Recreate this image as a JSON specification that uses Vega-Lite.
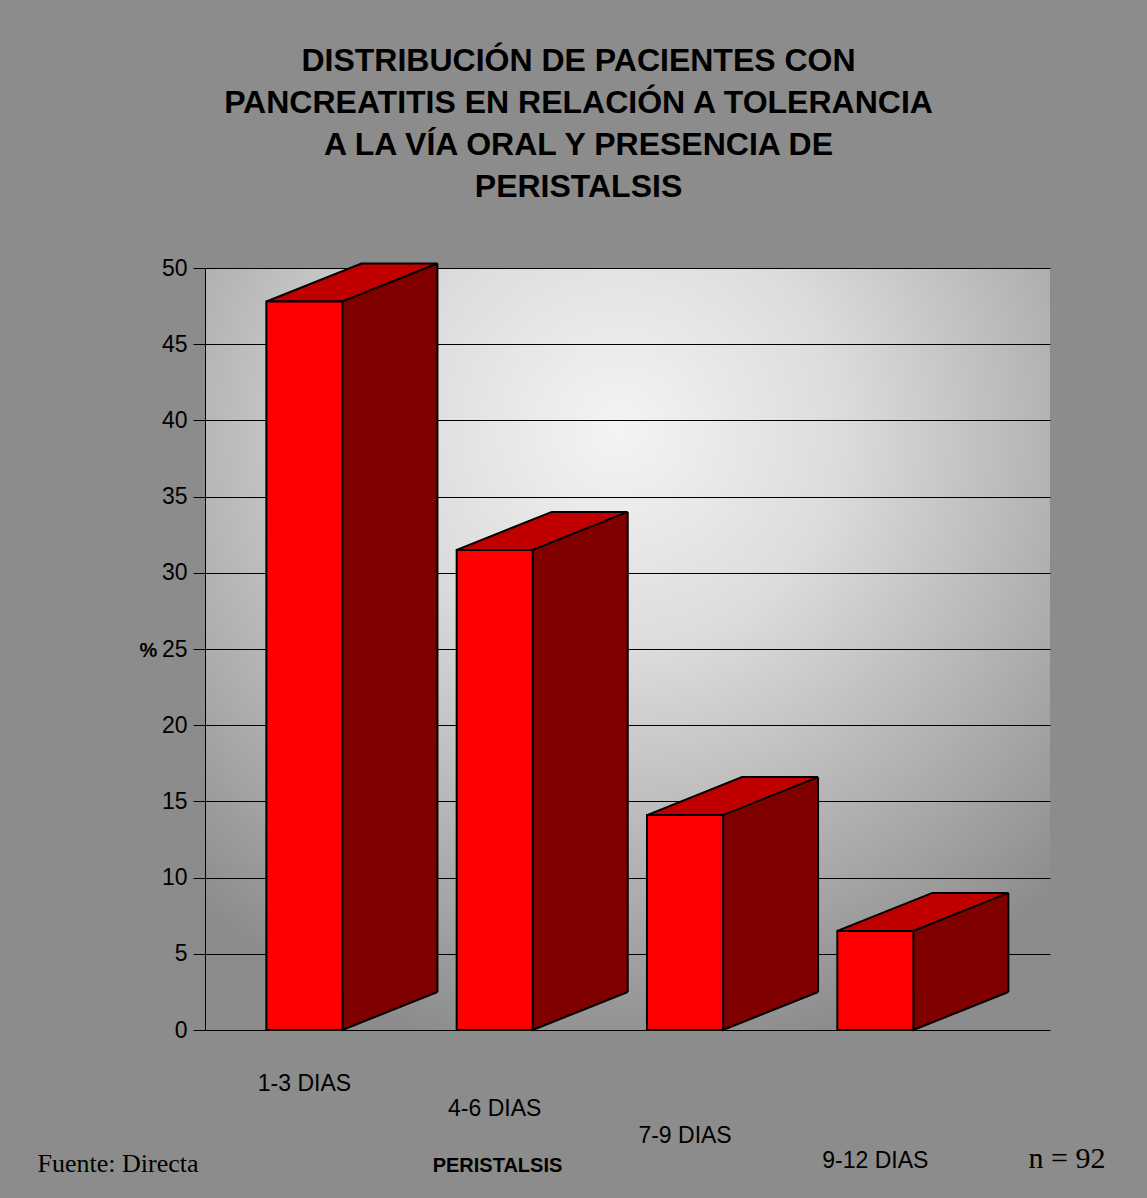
{
  "$schema": "https://vega.github.io/schema/vega-lite/v6.json",
  "width": 845,
  "height": 762,
  "autosize": {"type": "none"},
  "padding": {"left": 205, "top": 268, "right": 97, "bottom": 168},
  "background": "#8c8c8c",
  "title": {
    "text": ["DISTRIBUCIÓN DE PACIENTES CON", "PANCREATITIS EN RELACIÓN A TOLERANCIA", "A LA VÍA ORAL Y PRESENCIA DE", "PERISTALSIS"],
    "font": "Liberation Sans",
    "fontSize": 32,
    "fontWeight": "bold",
    "color": "black",
    "lineHeight": 42,
    "anchor": "middle",
    "dx": -49,
    "offset": 53
  },
  "config": {
    "view": {
      "stroke": null,
      "fill": {
        "gradient": "radial",
        "x1": 0.49, "y1": 0.24, "r1": 0,
        "x2": 0.49, "y2": 0.24, "r2": 0.75,
        "stops": [
          {"offset": 0, "color": "#f4f4f4"},
          {"offset": 0.35, "color": "#dcdcdc"},
          {"offset": 1, "color": "#8c8c8c"}
        ]
      }
    },
    "axis": {
      "labelFont": "Liberation Sans",
      "labelFontSize": 23,
      "labelColor": "black",
      "titleColor": "black",
      "domainColor": "black",
      "tickColor": "black"
    }
  },
  "data": {
    "values": [
      {"dias": "1-3 DIAS", "pct": 47.8},
      {"dias": "4-6 DIAS", "pct": 31.5},
      {"dias": "7-9 DIAS", "pct": 14.1},
      {"dias": "9-12 DIAS", "pct": 6.5}
    ]
  },
  "resolve": {
    "scale": {"x": "independent", "y": "independent"},
    "axis": {"x": "independent", "y": "independent"}
  },
  "layer": [
    {
      "encoding": {
        "x": {
          "field": "dias", "type": "nominal", "sort": null, "title": "PERISTALSIS",
          "scale": {"type": "band", "paddingInner": 0.6, "paddingOuter": 0.52, "align": 0.31}
        },
        "y": {
          "field": "pct", "type": "quantitative", "title": "%",
          "scale": {"domain": [0, 50], "nice": false}
        }
      },
      "layer": [
        {
          "mark": {"type": "bar", "color": "#800000", "strokeWidth": 0, "width": 95, "xOffset": 85.5, "yOffset": -2, "y2Offset": -38},
          "encoding": {
            "x": {
              "field": "dias", "type": "nominal", "sort": null, "title": "PERISTALSIS",
              "scale": {"type": "band", "paddingInner": 0.6, "paddingOuter": 0.52, "align": 0.31},
              "axis": {
                "orient": "bottom",
                "domain": false,
                "ticks": false,
                "labelAngle": 0,
                "labelPadding": {"expr": "datum.value == '1-3 DIAS' ? 42 : datum.value == '4-6 DIAS' ? 67 : datum.value == '7-9 DIAS' ? 94 : 119"},
                "titleFont": "Liberation Sans",
                "titleFontSize": 20,
                "titleFontWeight": "bold",
                "titleX": 292,
                "titleY": 135,
                "titleBaseline": "middle",
                "titleAlign": "center"
              }
            },
            "y": {
              "field": "pct", "type": "quantitative", "title": "%",
              "scale": {"domain": [0, 50], "nice": false},
              "axis": {
                "orient": "left",
                "values": [0, 5, 10, 15, 20, 25, 30, 35, 40, 45, 50],
                "tickSize": 12,
                "labelPadding": 6,
                "grid": true,
                "gridColor": "black",
                "gridWidth": 1,
                "gridOpacity": 1,
                "titleFont": "Liberation Sans",
                "titleFontSize": 20,
                "titleFontWeight": "bold",
                "titleAngle": 0,
                "titleX": -57,
                "titleY": 382,
                "titleAlign": "center",
                "titleBaseline": "middle"
              }
            },
            "y2": {"datum": 0}
          }
        },
        {
          "mark": {
            "type": "point", "filled": true, "opacity": 1, "size": 40000,
            "shape": "M0.38,0 L1.33,-0.38 L1.33,0 Z",
            "fill": "#800000", "strokeWidth": 0, "fillOpacity": 1
          }
        },
        {
          "mark": {"type": "rule", "color": "black", "strokeWidth": 2, "xOffset": 133, "yOffset": -38, "y2Offset": -38},
          "encoding": {
            "y2": {"datum": 0}
          }
        },
        {
          "mark": {
            "type": "point", "filled": true, "opacity": 1, "size": 40000,
            "shape": "M1.33,-0.38 L0.38,0 L0.38,-0.38",
            "fill": "#800000", "stroke": "black", "strokeWidth": 2, "strokeOpacity": 1, "fillOpacity": 1
          },
          "encoding": {
            "y": {"datum": 0, "type": "quantitative", "scale": {"domain": [0, 50], "nice": false}}
          }
        },
        {
          "mark": {
            "type": "point", "filled": true, "opacity": 1, "size": 40000,
            "shape": "M-0.38,0 L0.38,0 L1.33,-0.38 L0.57,-0.38 Z",
            "fill": "#c00000", "stroke": "black", "strokeWidth": 2, "strokeOpacity": 1, "fillOpacity": 1
          }
        },
        {
          "mark": {"type": "bar", "color": "#ff0000", "stroke": "black", "strokeWidth": 2}
        }
      ]
    },
    {
      "mark": {"type": "bar", "opacity": 0},
      "encoding": {
        "x": {
          "field": "dias", "type": "nominal", "sort": null,
          "scale": {"type": "band", "paddingInner": 0.6, "paddingOuter": 0.52, "align": 0.31},
          "axis": {
            "orient": "top",
            "domain": false,
            "ticks": false,
            "labels": false,
            "title": "Fuente: Directa",
            "titleFont": "Liberation Serif",
            "titleFontSize": 26,
            "titleFontWeight": "normal",
            "titleX": -168,
            "titleY": 895,
            "titleAlign": "left",
            "titleBaseline": "middle"
          }
        },
        "y": {
          "field": "pct", "type": "quantitative",
          "scale": {"domain": [0, 50], "nice": false},
          "axis": {
            "orient": "right",
            "domain": false,
            "ticks": false,
            "labels": false,
            "grid": false,
            "title": "n = 92",
            "titleFont": "Liberation Serif",
            "titleFontSize": 30,
            "titleFontWeight": "normal",
            "titleAngle": 0,
            "titleX": -22,
            "titleY": 890,
            "titleAlign": "left",
            "titleBaseline": "middle"
          }
        }
      }
    }
  ]
}
